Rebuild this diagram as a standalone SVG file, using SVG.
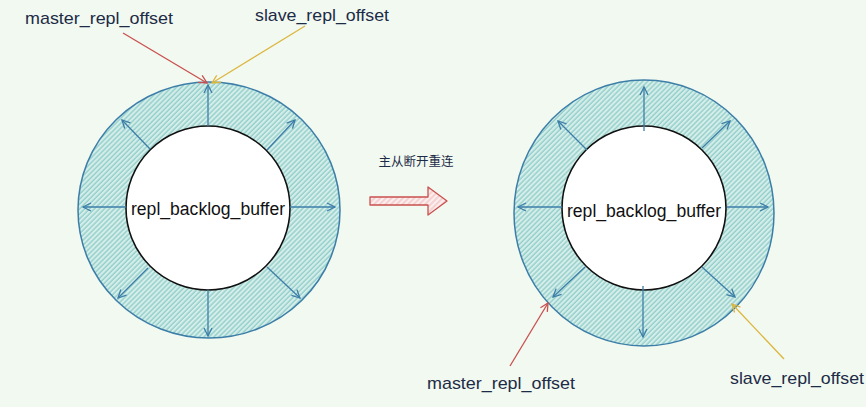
<svg xmlns="http://www.w3.org/2000/svg" width="866" height="407" viewBox="0 0 866 407">
<defs>
<pattern id="hatch" patternUnits="userSpaceOnUse" width="3.5" height="3.5" patternTransform="rotate(45)">
<rect width="3.5" height="3.5" fill="#d6eeea"/>
<line x1="1" y1="0" x2="1" y2="3.5" stroke="#86c9c5" stroke-width="1.2"/>
</pattern>
<pattern id="hatchRed" patternUnits="userSpaceOnUse" width="4" height="4" patternTransform="rotate(45)">
<rect width="4" height="4" fill="#fbeeee"/>
<line x1="1" y1="0" x2="1" y2="4" stroke="#f0b4b4" stroke-width="1"/>
</pattern>
<marker id="hb" markerUnits="userSpaceOnUse" markerWidth="12" markerHeight="12" refX="9" refY="5" orient="auto">
<path d="M1,1 L9,5 L1,9" fill="none" stroke="#3d7ea8" stroke-width="1.3"/>
</marker>
<marker id="hr" markerUnits="userSpaceOnUse" markerWidth="12" markerHeight="12" refX="9" refY="5" orient="auto">
<path d="M1,1 L9,5 L1,9" fill="none" stroke="#c9504f" stroke-width="1.3"/>
</marker>
<marker id="hy" markerUnits="userSpaceOnUse" markerWidth="12" markerHeight="12" refX="9" refY="5" orient="auto">
<path d="M1,1 L9,5 L1,9" fill="none" stroke="#dcb63f" stroke-width="1.3"/>
</marker>
</defs>
<style>
.lbl{font-family:"Liberation Sans","DejaVu Sans",sans-serif;font-size:17px;fill:#1d2b47}
.buf{font-family:"Liberation Sans","DejaVu Sans",sans-serif;font-size:18px;fill:#111}
.cn{font-family:"Noto Sans CJK SC","Noto Sans",sans-serif;font-size:12.5px;fill:#1d2b47}
.ring{fill:url(#hatch);stroke:#3d7ea8;stroke-width:1.5}
.inner{fill:#fff;stroke:#111;stroke-width:1.6}
.ba{stroke:#3d7ea8;stroke-width:1.3;fill:none;marker-end:url(#hb)}
.ra{stroke:#c9504f;stroke-width:1.3;fill:none;marker-end:url(#hr)}
.ya{stroke:#dcb63f;stroke-width:1.3;fill:none;marker-end:url(#hy)}
</style>
<rect width="866" height="407" fill="#f2f9f0"/>

<g id="ring-left">
<ellipse class="ring" cx="209" cy="210" rx="131" ry="128"/>
<circle class="inner" cx="208" cy="208" r="82"/>
<text class="buf" x="208" y="215" text-anchor="middle" textLength="154" lengthAdjust="spacingAndGlyphs">repl_backlog_buffer</text>
</g>
<g id="ring-right">
<ellipse class="ring" cx="644" cy="213" rx="130" ry="133"/>
<circle class="inner" cx="644" cy="208" r="82"/>
<text class="buf" x="644" y="217" text-anchor="middle" textLength="154" lengthAdjust="spacingAndGlyphs">repl_backlog_buffer</text>
</g>

<g id="label-master-top"><text class="lbl" x="25" y="24" textLength="148" lengthAdjust="spacingAndGlyphs">master_repl_offset</text></g>
<g id="label-slave-top"><text class="lbl" x="255" y="21" textLength="134" lengthAdjust="spacingAndGlyphs">slave_repl_offset</text></g>
<g id="label-master-bottom"><text class="lbl" x="427" y="389" textLength="148" lengthAdjust="spacingAndGlyphs">master_repl_offset</text></g>
<g id="label-slave-bottom"><text class="lbl" x="730" y="384" textLength="134" lengthAdjust="spacingAndGlyphs">slave_repl_offset</text></g>

<g id="transition">
<text class="cn" x="416" y="166" text-anchor="middle">主从断开重连</text>
<polygon points="370,197 428,197 428,187 447,201 428,215 428,205 370,205" fill="url(#hatchRed)" stroke="#c9504f" stroke-width="1.3" stroke-linejoin="round"/>
</g>

<g id="connectors">
<line class="ba" x1="208" y1="126" x2="208" y2="85"/>
<line class="ba" x1="126" y1="207" x2="83" y2="207"/>
<line class="ba" x1="290" y1="207" x2="335" y2="207"/>
<line class="ba" x1="208" y1="290" x2="208" y2="336"/>
<line class="ba" x1="150" y1="149" x2="122" y2="120"/>
<line class="ba" x1="267" y1="150" x2="295" y2="120"/>
<line class="ba" x1="148" y1="268" x2="118" y2="298"/>
<line class="ba" x1="267" y1="267" x2="300" y2="298"/>

<line class="ba" x1="644" y1="131" x2="644" y2="87"/>
<line class="ba" x1="562" y1="207" x2="518" y2="207"/>
<line class="ba" x1="727" y1="207" x2="768" y2="207"/>
<line class="ba" x1="643" y1="286" x2="643" y2="337"/>
<line class="ba" x1="587" y1="150" x2="558" y2="121"/>
<line class="ba" x1="702" y1="148" x2="730" y2="121"/>
<line class="ba" x1="585" y1="267" x2="553" y2="297"/>
<line class="ba" x1="702" y1="267" x2="735" y2="297"/>

<line class="ra" x1="123" y1="33" x2="207" y2="83"/>
<line class="ya" x1="305" y1="26" x2="212" y2="83"/>
<line class="ra" x1="510" y1="366" x2="548" y2="303"/>
<line class="ya" x1="784" y1="359" x2="732" y2="304"/>
</g>
</svg>
